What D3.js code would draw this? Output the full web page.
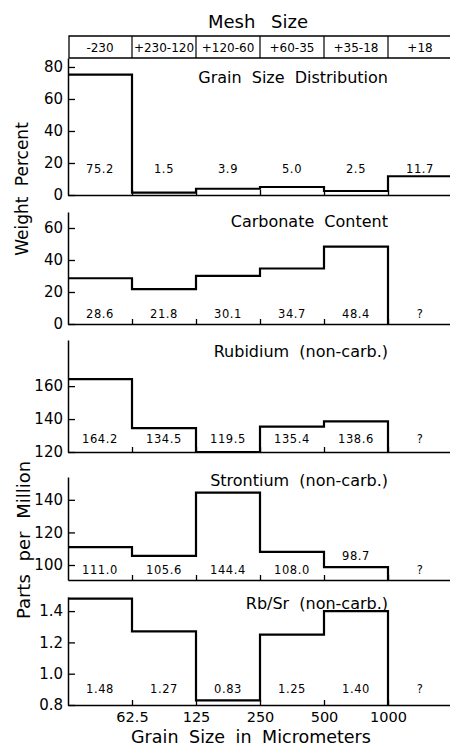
<html lang="en">
<head>
<meta charset="UTF-8">
<style>
  body { margin:0; background:#fff; }
  text { font-family: "DejaVu Sans", sans-serif; fill:#000; }
</style>
<title>Grain size</title>
</head>
<body>
<div id="chart"></div>
<script src="https://d3js.org/d3.v7.min.js"></script>
<script>
// data
const meshSizes = ["-230", "+230-120", "+120-60", "+60-35", "+35-18", "+18"];
const grainTicks = ["62.5", "125", "250", "500", "1000"];
const grainSize = [75.2, 1.5, 3.9, 5.0, 2.5, 11.7];
const carbonate = [28.6, 21.8, 30.1, 34.7, 48.4, null];
const rubidium = [164.2, 134.5, 119.5, 135.4, 138.6, null];
const strontium = [111.0, 105.6, 144.4, 108.0, 98.7, null];
const rbSr = [1.48, 1.27, 0.83, 1.25, 1.40, null];

const W = 450, H = 748;
const svg = d3.select("#chart").append("svg")
    .attr("width", W).attr("height", H);

const x = d3.scaleLinear().domain([0, 6]).range([68, 452]);

// panel layout (pixels and label heights in data units)
const panels = [
  {title: "Grain Size Distribution", values: grainSize, top: 58, bottom: 195, domain: [0, 85.6],
   ticks: [0, 20, 40, 60, 80], fmt: d3.format("d"), lab: d3.format(".1f"), labY: 13.8, titleY: 83},
  {title: "Carbonate Content", values: carbonate, top: 212, bottom: 324, domain: [0, 70],
   ticks: [0, 20, 40, 60], fmt: d3.format("d"), lab: d3.format(".1f"), labY: 3.6, titleY: 227},
  {title: "Rubidium (non-carb.)", values: rubidium, top: 340, bottom: 452, domain: [120, 188],
   ticks: [120, 140, 160], fmt: d3.format("d"), lab: d3.format(".1f"), labY: 125.3, titleY: 357},
  {title: "Strontium (non-carb.)", values: strontium, top: 477, bottom: 580, domain: [90.8, 154],
   ticks: [100, 120, 140], fmt: d3.format("d"), lab: d3.format(".1f"), labY: 94.5, titleY: 486},
  {title: "Rb/Sr (non-carb.)", values: rbSr, top: 597, bottom: 705, domain: [0.8, 1.49],
   ticks: [0.8, 1.0, 1.2, 1.4], fmt: d3.format(".1f"), lab: d3.format(".2f"), labY: 0.875, titleY: 609}
];

// mesh size header
const head = svg.append("g");
head.append("text").attr("x", 258).attr("y", 28).attr("text-anchor", "middle")
    .style("font-size", "18px").attr("word-spacing", "10").text("Mesh Size");
head.append("path")
    .attr("d", `M${W + 2},36 H69 V58 H${W + 2}`)
    .attr("fill", "none").attr("stroke", "#000").attr("stroke-width", 1.3);
head.selectAll("line.div").data(d3.range(1, 6)).join("line")
    .attr("x1", d => x(d)).attr("x2", d => x(d)).attr("y1", 36).attr("y2", 58)
    .attr("stroke", "#000").attr("stroke-width", 1.2);
head.selectAll("text.mesh").data(meshSizes).join("text")
    .attr("class", "mesh")
    .attr("x", (d, i) => x(i + 0.5)).attr("y", 52).attr("text-anchor", "middle")
    .style("font-size", "12px").text(d => d);

panels.forEach(function(p, k) {
  const y = d3.scaleLinear().domain(p.domain).range([p.bottom, p.top]);
  const g = svg.append("g");
  const lo = p.domain[0];

  // left axis
  const ya = g.append("g").attr("transform", "translate(68,0)")
      .call(d3.axisLeft(y).tickValues(p.ticks).tickFormat(p.fmt)
        .tickSize(-7).tickSizeOuter(0).tickPadding(5));
  ya.select(".domain").attr("stroke-width", 1.5);
  ya.selectAll(".tick line").attr("stroke-width", 1.3);
  ya.selectAll("text").style("font-size", "15px").style("font-family", "DejaVu Sans");

  // bottom axis
  const xa = g.append("g").attr("transform", `translate(0,${p.bottom})`)
      .call(d3.axisBottom(x).tickValues([1, 2, 3, 4, 5])
        .tickFormat((d, i) => k === 4 ? grainTicks[i] : "")
        .tickSize(-5).tickSizeOuter(0).tickPadding(7));
  xa.select(".domain").attr("stroke-width", 1.5);
  xa.selectAll(".tick line").attr("stroke-width", 1.3);
  xa.selectAll("text").style("font-size", "14.5px").style("font-family", "DejaVu Sans");

  // stepped histogram outline
  const v = p.values;
  const yv = d => y(Math.max(d, lo));
  let d = `M${x(0)},${yv(v[0])}`;
  v.forEach(function(val, i) {
    if (val === null) return;
    d += ` H${x(i + 1)}`;
    const nxt = v[i + 1];
    d += (nxt === undefined || nxt === null) ? ` V${y(lo)}` : ` V${yv(nxt)}`;
  });
  g.append("path").attr("d", d).attr("fill", "none")
      .attr("stroke", "#000").attr("stroke-width", 2.2).attr("stroke-linejoin", "miter");

  // value labels
  g.selectAll("text.val").data(v).join("text")
      .attr("class", "val")
      .attr("x", (d, i) => x(i + 0.5))
      .attr("y", (d, i) => (k === 3 && i === 4) ? y(103) : y(p.labY))
      .attr("text-anchor", "middle")
      .style("font-size", "11.5px").attr("letter-spacing", "0.6")
      .text(d => d === null ? "?" : p.lab(d));

  // panel title
  g.append("text").attr("x", 388).attr("y", p.titleY).attr("text-anchor", "end")
      .style("font-size", "16px").attr("word-spacing", "5").text(p.title);
});

// axis titles
svg.append("text").attr("transform", "translate(28,189) rotate(-90)")
    .attr("text-anchor", "middle").style("font-size", "17px").attr("word-spacing", "5")
    .text("Weight Percent");
svg.append("text").attr("transform", "translate(30,540) rotate(-90)")
    .attr("text-anchor", "middle").style("font-size", "18px").attr("word-spacing", "7")
    .text("Parts per Million");
svg.append("text").attr("x", 251).attr("y", 743).attr("text-anchor", "middle")
    .style("font-size", "17.5px").attr("word-spacing", "5")
    .text("Grain Size in Micrometers");
</script>
</body>
</html>
